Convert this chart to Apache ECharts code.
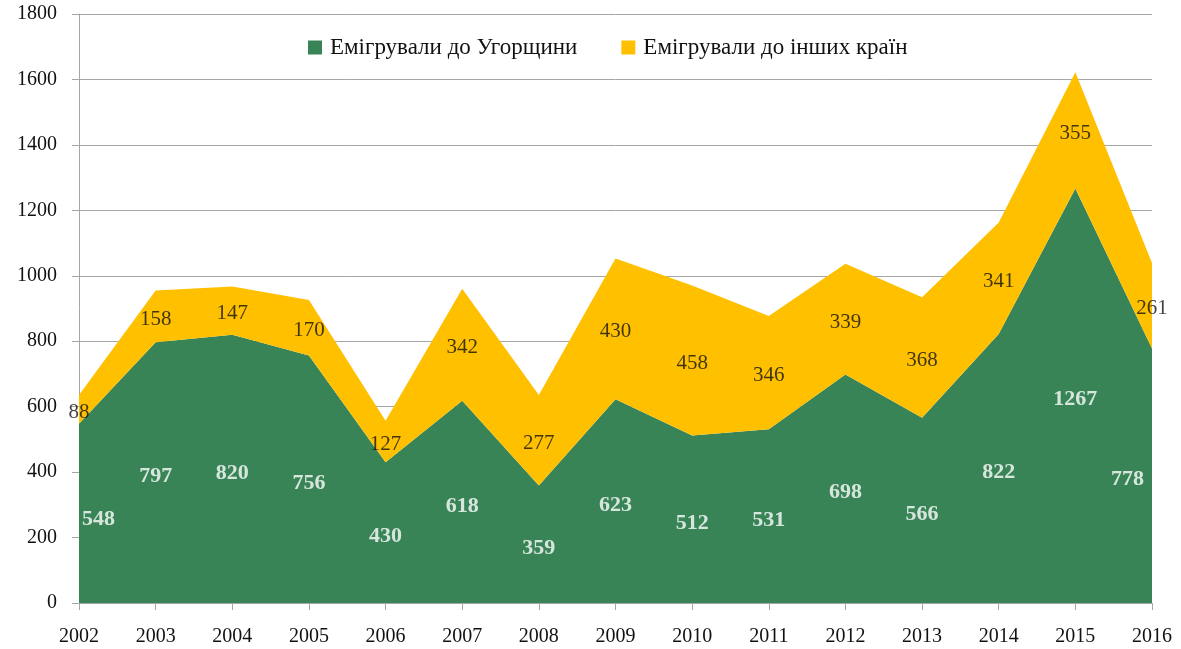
<!DOCTYPE html>
<html><head><meta charset="utf-8">
<script src="https://cdn.jsdelivr.net/npm/echarts@6/dist/echarts.min.js"></script>
<style>html,body{margin:0;padding:0;background:#fff}#c{width:1181px;height:649px}</style>
</head><body><div id="c"></div>
<script>
const years = ['2002','2003','2004','2005','2006','2007','2008','2009','2010','2011','2012','2013','2014','2015','2016'];
const hungary = [548,797,820,756,430,618,359,623,512,531,698,566,822,1267,778];
const others = [88,158,147,170,127,342,277,430,458,346,339,368,341,355,261];
const seriesNames = ['Емігрували до Угорщини','Емігрували до інших країн'];
const yTicks = {min:0, max:1800, interval:200};

const FONT = '"Liberation Serif", "DejaVu Serif", serif';
const GREEN = '#388457', YELLOW = '#FFC000';

const last = years.length - 1;
const greenLabels = hungary.map((v,i)=>{
  const item = {value:[years[i], v/2], raw:v};
  if (i===0) item.label = {align:'left', offset:[3,6]};
  if (i===last) item.label = {align:'right', offset:[-8,4]};
  return item;
});
const yellowLabels = others.map((v,i)=>({value:[years[i], hungary[i] + v/2], raw:v}));

const chart = echarts.init(document.getElementById('c'));
chart.setOption({
  animation:false,
  textStyle:{fontFamily:FONT},
  grid:{left:79, right:29, top:14, bottom:46, containLabel:false},
  legend:{
    data:seriesNames, top:31, left:303, itemWidth:14, itemHeight:14, itemGap:44,
    icon:'rect', textStyle:{fontFamily:FONT, fontSize:23, color:'#111', padding:[0,0,0,3]}
  },
  xAxis:{
    type:'category', data:years, boundaryGap:false,
    axisLine:{lineStyle:{color:'#a6a6a6'}},
    axisTick:{show:true, length:7, lineStyle:{color:'#a6a6a6'}},
    axisLabel:{margin:24, fontSize:20, color:'#111', fontFamily:FONT},
    splitLine:{show:false}
  },
  yAxis:{
    type:'value', min:yTicks.min, max:yTicks.max, interval:yTicks.interval,
    axisLine:{show:true, lineStyle:{color:'#a6a6a6'}},
    axisTick:{show:true, length:7, lineStyle:{color:'#a6a6a6'}},
    axisLabel:{margin:22, fontSize:20, color:'#111', fontFamily:FONT, formatter:v=>String(v)},
    splitLine:{show:true, lineStyle:{color:'#a6a6a6', width:1}}
  },
  series:[
    {name:seriesNames[0], type:'line', stack:'t', data:hungary, symbol:'none',
     lineStyle:{width:0}, areaStyle:{color:GREEN, opacity:1}, itemStyle:{color:GREEN}, z:2},
    {name:seriesNames[1], type:'line', stack:'t', data:others, symbol:'none',
     lineStyle:{width:0}, areaStyle:{color:YELLOW, opacity:1}, itemStyle:{color:YELLOW}, z:2},
    {type:'scatter', data:greenLabels, symbolSize:0, z:5, silent:true,
     label:{show:true, position:'inside', offset:[0,4], color:'#fff', fontWeight:'bold', fontSize:22, fontFamily:FONT,
       formatter:p=>p.data.raw}},
    {type:'scatter', data:yellowLabels, symbolSize:0, z:5, silent:true,
     label:{show:true, position:'inside', offset:[0,3], color:'#111', fontSize:21, fontFamily:FONT,
       formatter:p=>p.data.raw}}
  ]
});
</script></body></html>
